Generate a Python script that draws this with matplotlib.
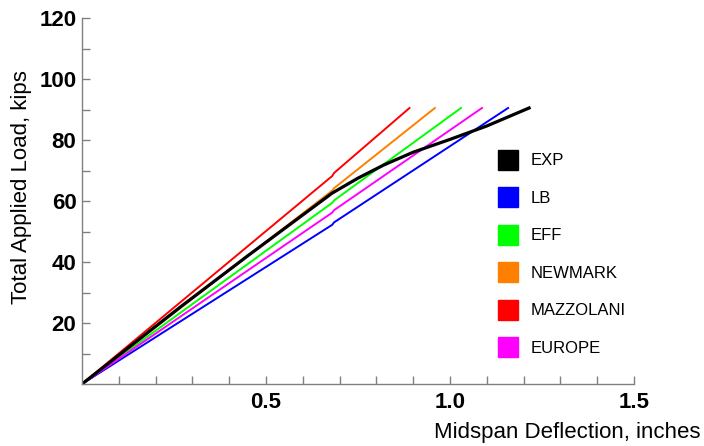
import matplotlib.pyplot as plt
from matplotlib.lines import Line2D

plt.rcParams['font.family'] = ['Liberation Sans', 'DejaVu Sans']

# deflection (in) and load (kips)
exp_x = [0, 0.27, 0.45, 0.68, 0.75, 0.82, 0.90, 1.00, 1.10, 1.215]
exp_y = [0, 25.5, 42, 62.6, 67.5, 71.8, 76, 80.2, 84.6, 90.5]

lb_x = [0, 0.68, 0.685, 1.158]
lb_y = [0, 52.2, 53.0, 90.5]

eff_x = [0, 0.68, 0.685, 1.03]
eff_y = [0, 59.4, 60.2, 90.5]

newmark_x = [0, 0.68, 0.685, 0.959]
newmark_y = [0, 63.4, 64.2, 90.5]

mazz_x = [0, 0.68, 0.685, 0.89]
mazz_y = [0, 68.2, 69.2, 90.5]

europe_x = [0, 0.68, 0.685, 1.087]
europe_y = [0, 56.2, 57.0, 90.5]

names = ["EXP", "LB", "EFF", "NEWMARK", "MAZZOLANI", "EUROPE"]
colors = ["#000000", "#0000ff", "#00ff00", "#ff8000", "#ff0000", "#ff00ff"]

xticks = [0.5, 1.0, 1.5]
yticks = [20, 40, 60, 80, 100, 120]

fig = plt.figure(figsize=(7.04, 4.46), dpi=100)
ax = fig.add_axes([0.1165, 0.139, 0.784, 0.8206])

ax.plot(lb_x, lb_y, color=colors[1], lw=1.4)
ax.plot(eff_x, eff_y, color=colors[2], lw=1.4)
ax.plot(newmark_x, newmark_y, color=colors[3], lw=1.4)
ax.plot(mazz_x, mazz_y, color=colors[4], lw=1.4)
ax.plot(europe_x, europe_y, color=colors[5], lw=1.4)
ax.plot(exp_x, exp_y, color=colors[0], lw=2.3)

ax.set_xlim(0, 1.5)
ax.set_ylim(0, 120)
ax.spines['top'].set_visible(False)
ax.spines['right'].set_visible(False)
for s in ['left', 'bottom']:
    ax.spines[s].set_color('#808080')
    ax.spines[s].set_linewidth(1.0)

ax.set_xticks(xticks)
ax.set_xticklabels(["0.5", "1.0", "1.5"])
ax.set_xticks([i / 10 for i in range(1, 16)], minor=True)
ax.set_yticks(yticks)
ax.set_yticks(list(range(10, 121, 10)), minor=True)
ax.tick_params(which='both', direction='in', length=6, color='#808080', width=1.0)
ax.tick_params(axis='both', which='major', labelsize=16, pad=4)
ax.tick_params(axis='x', which='major', pad=6)
for lab in ax.get_xticklabels() + ax.get_yticklabels():
    lab.set_fontweight('bold')

fig.text(0.995, 0.007, "Midspan Deflection, inches", ha='right', va='bottom', fontsize=16)
fig.text(0.031, 0.58, "Total Applied Load, kips", rotation=90, ha='center', va='center', fontsize=16)

handles = [Line2D([], [], marker='s', linestyle='none', markersize=14,
                  markerfacecolor=c, markeredgecolor=c) for c in colors]
ax.legend(handles, names, loc='upper left', bbox_to_anchor=(0.729, 0.671), frameon=False,
          fontsize=12, labelspacing=1.35, handletextpad=0.85, handlelength=1.0)

fig.savefig("out.png", dpi=100)
